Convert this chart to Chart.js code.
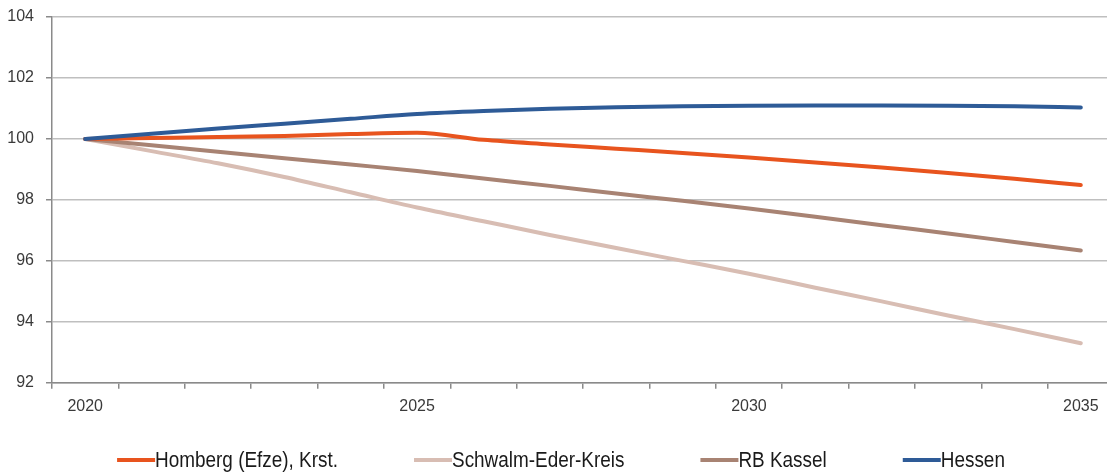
<!DOCTYPE html>
<html>
<head>
<meta charset="utf-8">
<script src="https://cdn.jsdelivr.net/npm/chart.js@4/dist/chart.umd.min.js"></script>
<style>
  html, body { margin: 0; padding: 0; background: #fff; overflow: hidden; }
  #wrap { position: relative; width: 1116px; height: 473px; }
</style>
</head>
<body>
<div id="wrap"><canvas id="c"></canvas></div>
<script>
// ---- data ----
const years = ['2020','2021','2022','2023','2024','2025','2026','2027','2028','2029','2030','2031','2032','2033','2034','2035'];
const labeledYears = ['2020','2025','2030','2035'];
const seriesNames = ['Homberg (Efze), Krst.', 'Schwalm-Eder-Kreis', 'RB Kassel', 'Hessen'];
const homberg = [100, 100.03, 100.06, 100.1, 100.16, 100.2, 99.97, 99.82, 99.68, 99.54, 99.39, 99.23, 99.06, 98.88, 98.69, 98.49];
const schwalm = [100, 99.6, 99.2, 98.75, 98.25, 97.75, 97.3, 96.85, 96.42, 96.0, 95.58, 95.12, 94.67, 94.21, 93.76, 93.3];
const kassel  = [100, 99.79, 99.58, 99.37, 99.16, 98.95, 98.7, 98.46, 98.21, 97.97, 97.72, 97.45, 97.17, 96.9, 96.62, 96.34];
const hessen  = [100, 100.17, 100.34, 100.5, 100.66, 100.82, 100.92, 100.99, 101.04, 101.07, 101.09, 101.1, 101.1, 101.09, 101.07, 101.03];
const yMin = 92, yMax = 104, yStep = 2;

// ---- styles ----
const colors = ['#E8541E', '#D8BDB3', '#A88373', '#2E5B97'];
const tickFont = { family: '"Liberation Sans", Arial, sans-serif', size: 16 };
const legendFont = '22px "Liberation Sans", Arial, sans-serif';
const legendCondense = 0.86;

const lineLegend = {
  id: 'lineLegend',
  afterDraw(chart) {
    const ctx = chart.ctx;
    ctx.save();
    ctx.font = legendFont;
    ctx.textBaseline = 'middle';
    ctx.textAlign = 'left';
    const sample = 38, gap = 76, centerX = 561, y = 460;
    const items = chart.data.datasets.map(ds => ({ text: ds.label, color: ds.borderColor, w: ctx.measureText(ds.label).width * legendCondense }));
    const total = items.reduce((s, it) => s + sample + it.w, 0) + gap * (items.length - 1);
    let x = centerX - total / 2;
    items.forEach(it => {
      ctx.strokeStyle = it.color;
      ctx.lineWidth = 4;
      ctx.lineCap = 'butt';
      ctx.beginPath();
      ctx.moveTo(x, y);
      ctx.lineTo(x + sample, y);
      ctx.stroke();
      ctx.save();
      ctx.translate(x + sample, y + 1);
      ctx.scale(legendCondense, 1);
      ctx.fillStyle = '#1a1a1a';
      ctx.fillText(it.text, 0, 0);
      ctx.restore();
      x += sample + it.w + gap;
    });
    ctx.restore();
  }
};

const seriesData = [homberg, schwalm, kassel, hessen];
const drawOrder = [1, 3, 2, 0];

new Chart(document.getElementById('c'), {
  type: 'line',
  data: {
    labels: years,
    datasets: seriesNames.map((name, i) => ({
      label: name,
      data: seriesData[i],
      borderColor: colors[i],
      backgroundColor: colors[i],
      borderWidth: 4,
      pointRadius: 0,
      pointHoverRadius: 0,
      cubicInterpolationMode: 'monotone',
      borderCapStyle: 'round',
      borderJoinStyle: 'round',
      fill: false,
      order: drawOrder[i]
    }))
  },
  options: {
    responsive: true,
    maintainAspectRatio: false,
    animation: false,
    devicePixelRatio: 1,
    layout: { padding: { top: 17, right: 2, bottom: 49, left: 0 } },
    plugins: {
      legend: { display: false },
      tooltip: { enabled: false }
    },
    scales: {
      x: {
        type: 'category',
        offset: true,
        grid: { display: true, drawOnChartArea: false, drawTicks: true, tickLength: 6, offset: true, color: '#8a8a8a', lineWidth: 1.5 },
        border: { display: true, color: '#8a8a8a', width: 1.5 },
        ticks: {
          autoSkip: false, maxRotation: 0, minRotation: 0, padding: 8,
          color: '#3a3a3a', font: tickFont,
          callback: function(value, index) { const l = years[index]; return labeledYears.includes(l) ? l : ''; }
        }
      },
      y: {
        min: yMin, max: yMax,
        afterFit(scale) { scale.width = 52; scale.paddingTop = 0; scale.paddingBottom = 0; },
        grid: { color: '#bfbfbf', lineWidth: 1.5, drawTicks: true, tickLength: 6, tickColor: '#8a8a8a' },
        border: { display: true, color: '#8a8a8a', width: 1.5 },
        ticks: { stepSize: yStep, padding: 12, color: '#3a3a3a', font: tickFont }
      }
    }
  },
  plugins: [lineLegend]
});
</script>
</body>
</html>
